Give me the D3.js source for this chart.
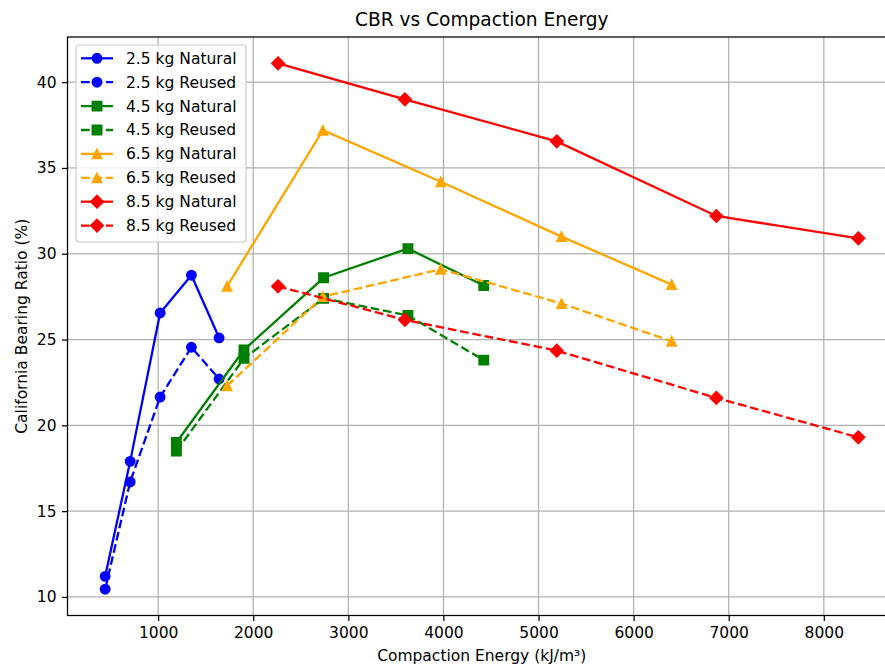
<!DOCTYPE html>
<html>
<head>
<meta charset="utf-8">
<script src="https://cdn.jsdelivr.net/npm/d3@7"></script>
<style>
  body { margin: 0; background: #fff; }
  svg { font-family: "DejaVu Sans", sans-serif; }
</style>
</head>
<body>
<div id="chart"></div>
<script>
/**
 * DATA
 * */
const energy25 = [443, 706, 1021, 1350, 1641];
const energy45 = [1192, 1903, 2740, 3627, 4424];
const energy65 = [1725, 2733, 3973, 5242, 6400];
const energy85 = [2261, 3595, 5192, 6870, 8363];

const cbr25Natural = [11.2, 17.9, 26.55, 28.75, 25.1];
const cbr25Reused = [10.45, 16.7, 21.65, 24.55, 22.7];
const cbr45Natural = [19.0, 24.4, 28.6, 30.3, 28.15];
const cbr45Reused = [18.5, 23.9, 27.4, 26.4, 23.8];
const cbr65Natural = [28.1, 37.2, 34.2, 31.0, 28.2];
const cbr65Reused = [22.3, 27.5, 29.1, 27.1, 24.9];
const cbr85Natural = [41.1, 39.0, 36.55, 32.2, 30.9];
const cbr85Reused = [28.1, 26.15, 24.35, 21.6, 19.3];

const xTicks = [1000, 2000, 3000, 4000, 5000, 6000, 7000, 8000];
const yTicks = [10, 15, 20, 25, 30, 35, 40];

const series = [
  { label: "2.5 kg Natural", x: energy25, y: cbr25Natural, color: "blue", marker: "circle", dashed: false },
  { label: "2.5 kg Reused", x: energy25, y: cbr25Reused, color: "blue", marker: "circle", dashed: true },
  { label: "4.5 kg Natural", x: energy45, y: cbr45Natural, color: "green", marker: "square", dashed: false },
  { label: "4.5 kg Reused", x: energy45, y: cbr45Reused, color: "green", marker: "square", dashed: true },
  { label: "6.5 kg Natural", x: energy65, y: cbr65Natural, color: "orange", marker: "triangle", dashed: false },
  { label: "6.5 kg Reused", x: energy65, y: cbr65Reused, color: "orange", marker: "triangle", dashed: true },
  { label: "8.5 kg Natural", x: energy85, y: cbr85Natural, color: "red", marker: "diamond", dashed: false },
  { label: "8.5 kg Reused", x: energy85, y: cbr85Reused, color: "red", marker: "diamond", dashed: true },
];

/**
 * CONSTANTS
 * */
const width = 885, height = 666;
const margin = { top: 37, left: 67.5, bottom: 50.5, right: -11 };
const fs = 15.5;          // base font size (px)
const lw = 2.3;           // line width
const dash = "8.7,3.8";
const tick = 5.5;

const svg = d3.select("#chart").append("svg")
  .attr("width", width)
  .attr("height", height);

// matplotlib style 5% padding around the data
const allX = series.flatMap(s => s.x);
const allY = series.flatMap(s => s.y);
const [x0, x1] = d3.extent(allX);
const [y0, y1] = d3.extent(allY);
const px = (x1 - x0) * 0.05, py = (y1 - y0) * 0.05;

const x = d3.scaleLinear()
  .domain([x0 - px, x1 + px])
  .range([margin.left, width - margin.right]);
const y = d3.scaleLinear()
  .domain([y0 - py, y1 + py])
  .range([height - margin.bottom, margin.top]);

// grid
const grid = svg.append("g");
grid.selectAll(".gx").data(xTicks).join("line")
  .attr("x1", d => x(d)).attr("x2", d => x(d))
  .attr("y1", margin.top).attr("y2", height - margin.bottom)
  .attr("stroke", "#b0b0b0").attr("stroke-width", 1.25);
grid.selectAll(".gy").data(yTicks).join("line")
  .attr("x1", margin.left).attr("x2", width - margin.right)
  .attr("y1", d => y(d)).attr("y2", d => y(d))
  .attr("stroke", "#b0b0b0").attr("stroke-width", 1.25);

// markers
function markerPath(type) {
  if (type === "circle") return d3.symbol(d3.symbolCircle, Math.PI * 4.7 * 4.7)();
  if (type === "square") return "M-4.7,-4.7H4.7V4.7H-4.7Z";
  if (type === "triangle") return "M0,-4.7L4.7,4.7L-4.7,4.7Z";
  if (type === "diamond") return "M0,-6.3L6.3,0L0,6.3L-6.3,0Z";
}

const line = d3.line().x(d => x(d[0])).y(d => y(d[1]));

series.forEach(s => {
  const pts = s.x.map((v, i) => [v, s.y[i]]);
  const g = svg.append("g");
  g.append("path")
    .attr("d", line(pts))
    .attr("fill", "none")
    .attr("stroke", s.color)
    .attr("stroke-width", lw)
    .attr("stroke-dasharray", s.dashed ? dash : null);
  g.selectAll("path.m").data(pts).join("path")
    .attr("class", "m")
    .attr("d", markerPath(s.marker))
    .attr("transform", d => `translate(${x(d[0])},${y(d[1])})`)
    .attr("fill", s.color)
    .attr("stroke", s.color)
    .attr("stroke-width", 1.5);
});

// axes
const xAxis = svg.append("g")
  .attr("transform", `translate(0,${height - margin.bottom})`)
  .call(d3.axisBottom(x).tickValues(xTicks).tickSize(tick).tickPadding(tick).tickFormat(d3.format("d")));
const yAxis = svg.append("g")
  .attr("transform", `translate(${margin.left},0)`)
  .call(d3.axisLeft(y).tickValues(yTicks).tickSize(tick).tickPadding(tick));

[xAxis, yAxis].forEach(a => {
  a.select(".domain").remove();
  a.selectAll("text").attr("font-size", fs).attr("fill", "#000").attr("font-family", "DejaVu Sans");
  a.selectAll("line").attr("stroke", "#000").attr("stroke-width", 1.25);
});
xAxis.selectAll("text").attr("dy", "0.76em");

// spines
svg.append("rect")
  .attr("x", margin.left).attr("y", margin.top)
  .attr("width", width - margin.right - margin.left)
  .attr("height", height - margin.bottom - margin.top)
  .attr("fill", "none").attr("stroke", "#000").attr("stroke-width", 1.25);

// title and labels
svg.append("text")
  .attr("x", (margin.left + width - margin.right) / 2)
  .attr("y", 26)
  .attr("text-anchor", "middle")
  .attr("font-size", 18.6)
  .text("CBR vs Compaction Energy");

svg.append("text")
  .attr("x", (margin.left + width - margin.right) / 2)
  .attr("y", 661)
  .attr("text-anchor", "middle")
  .attr("font-size", fs)
  .text("Compaction Energy (kJ/m³)");

svg.append("text")
  .attr("transform", `translate(26.5,${(margin.top + height - margin.bottom) / 2}) rotate(-90)`)
  .attr("text-anchor", "middle")
  .attr("font-size", fs)
  .text("California Bearing Ratio (%)");

// legend
const legend = svg.append("g").attr("transform", "translate(76,45)");
legend.append("rect")
  .attr("width", 170).attr("height", 197)
  .attr("rx", 3)
  .attr("fill", "#fff").attr("fill-opacity", 0.8)
  .attr("stroke", "#cccccc").attr("stroke-width", 1.2);

const item = legend.selectAll("g.item").data(series).join("g")
  .attr("class", "item")
  .attr("transform", (d, i) => `translate(0,${13.3 + i * 23.9})`);
item.append("line")
  .attr("x1", 5).attr("x2", 37)
  .attr("stroke", d => d.color)
  .attr("stroke-width", lw)
  .attr("stroke-dasharray", d => d.dashed ? dash : null);
item.append("path")
  .attr("d", d => markerPath(d.marker))
  .attr("transform", "translate(21,0)")
  .attr("fill", d => d.color)
  .attr("stroke", d => d.color)
  .attr("stroke-width", 1.5);
item.append("text")
  .attr("x", 50)
  .attr("dy", "0.35em")
  .attr("font-size", fs)
  .text(d => d.label);
</script>
</body>
</html>
